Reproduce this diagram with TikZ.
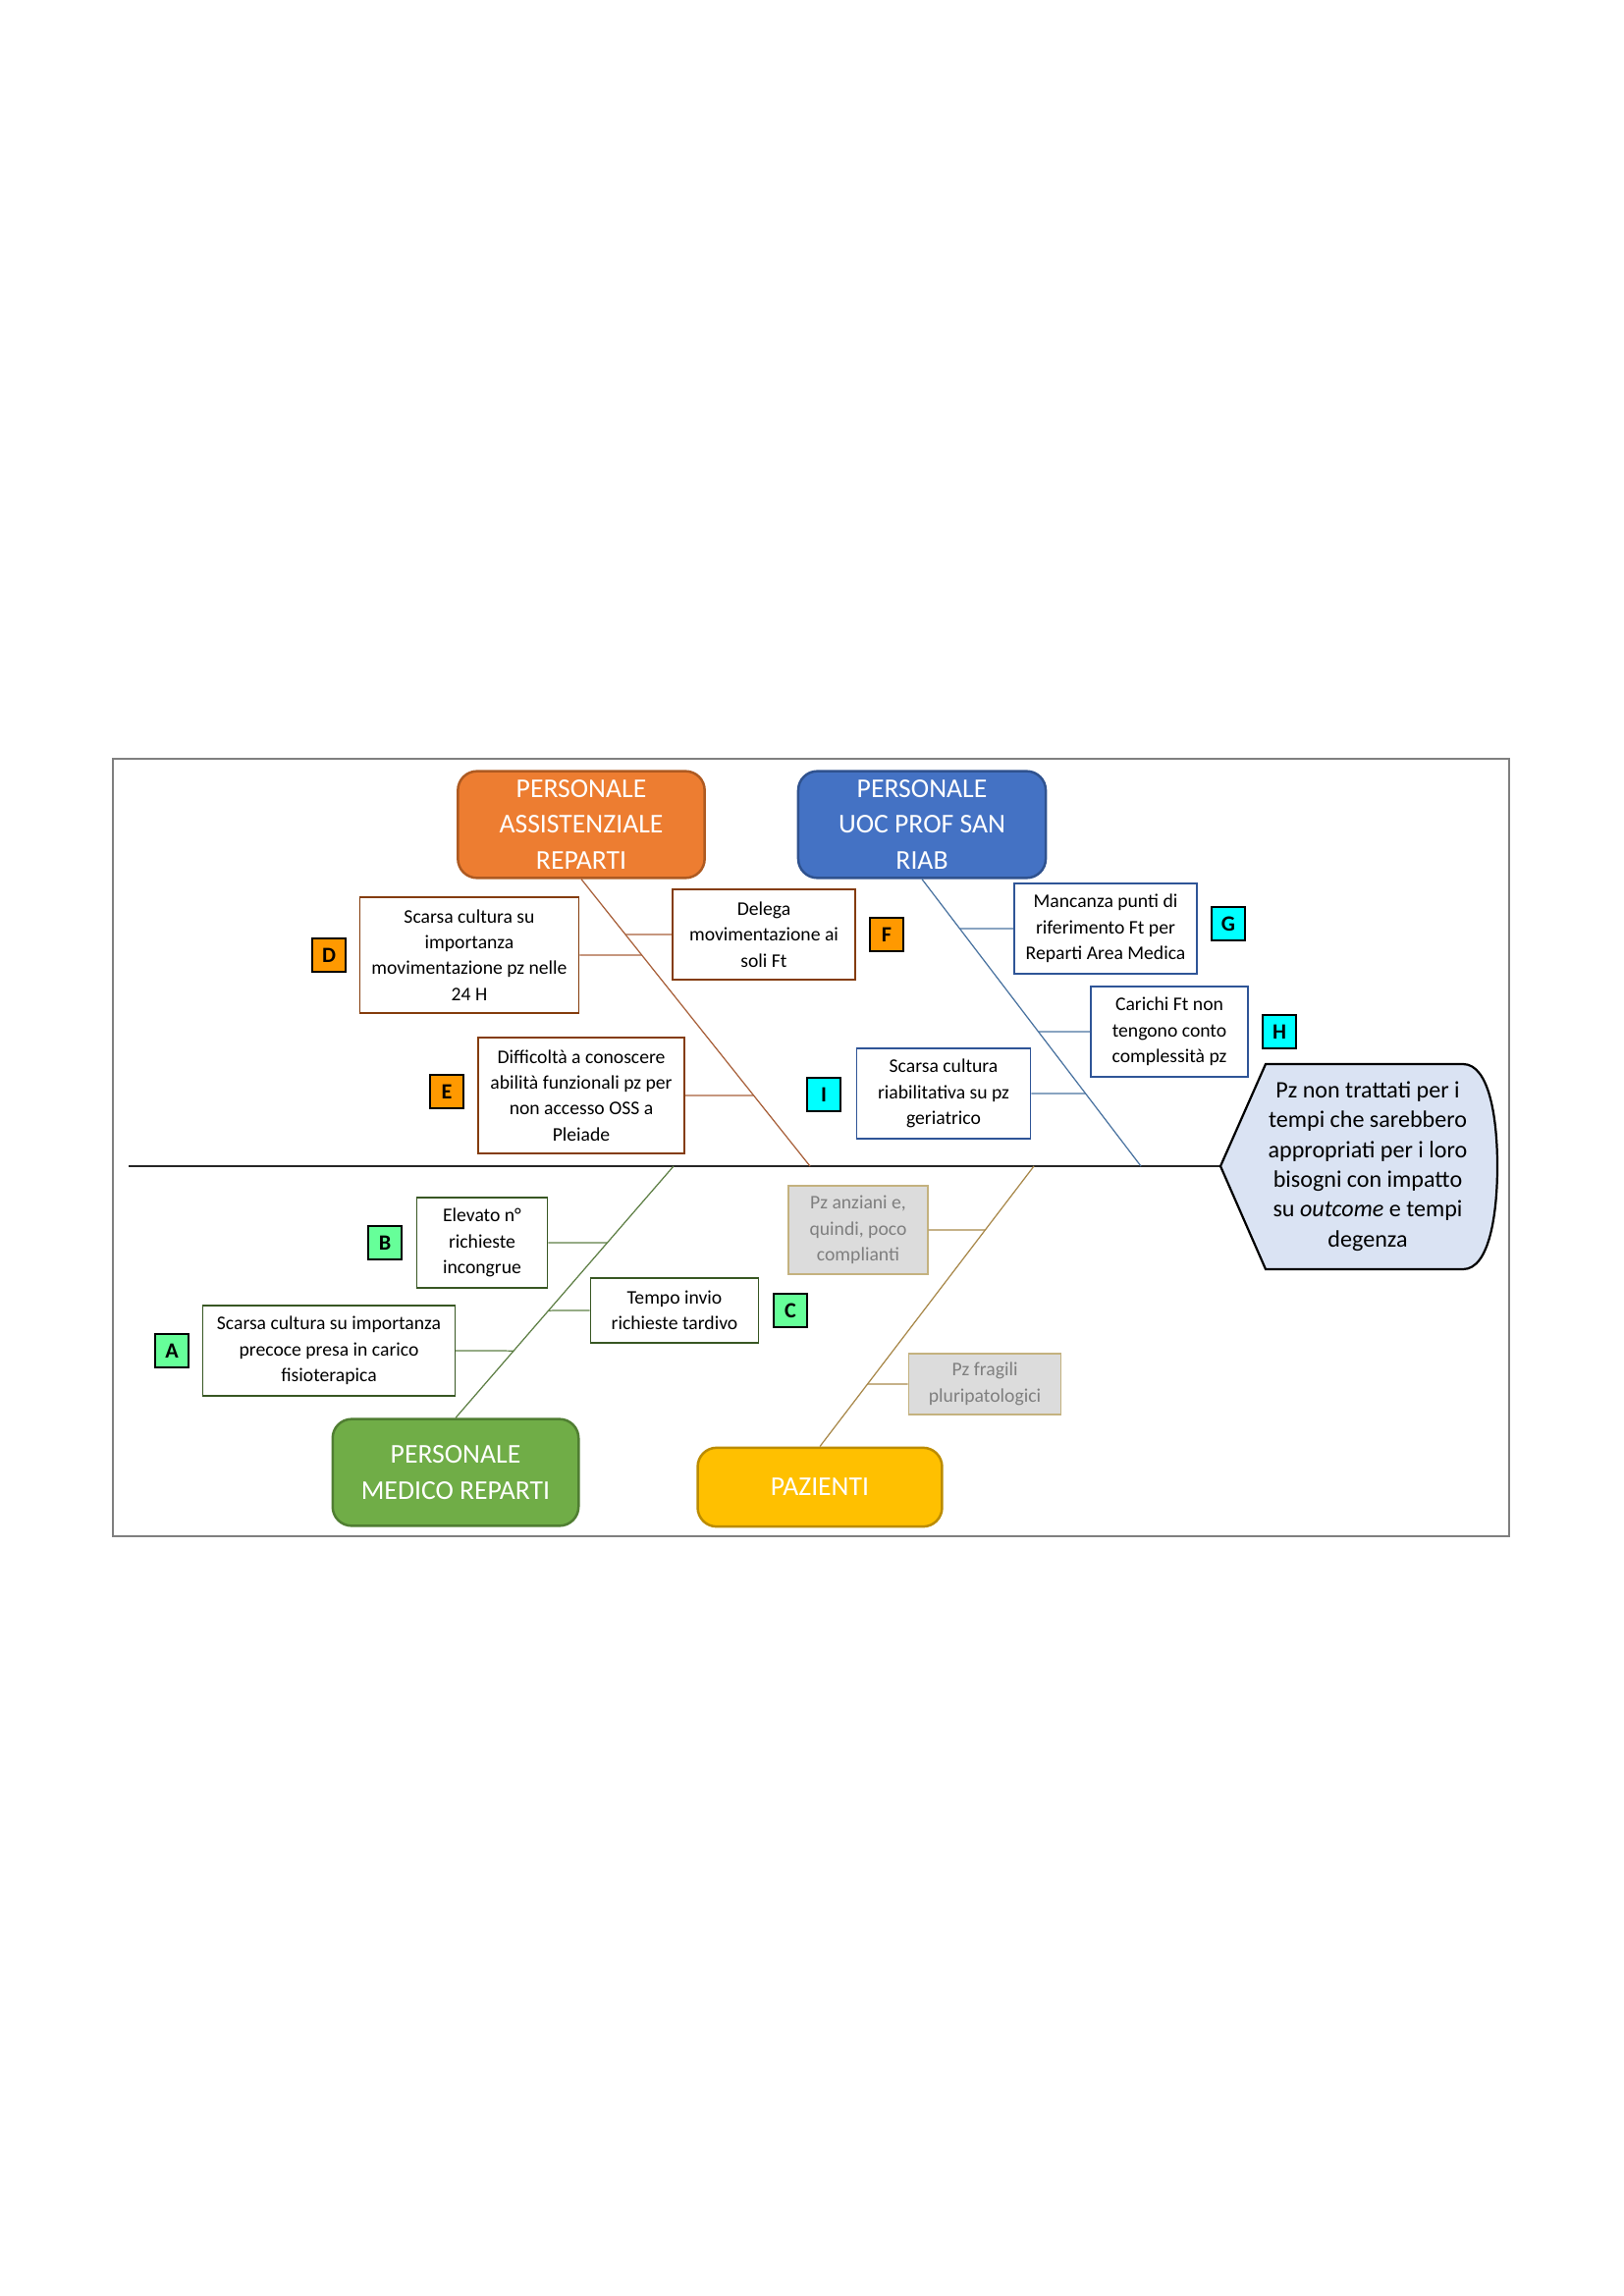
\documentclass[tikz,border=0pt]{standalone}
\usepackage{fontspec}
\setmainfont{Carlito}
\usepackage{tikz}
\usetikzlibrary{calc}
\definecolor{arancio}{HTML}{ED7D31}
\definecolor{arancioB}{HTML}{AE5A21}
\definecolor{blu}{HTML}{4472C4}
\definecolor{bluB}{HTML}{2F528F}
\definecolor{verde}{HTML}{70AD47}
\definecolor{verdeB}{HTML}{507E32}
\definecolor{giallo}{HTML}{FFC000}
\definecolor{gialloB}{HTML}{BC8C00}
\definecolor{bordoass}{HTML}{843C0C}
\definecolor{bordouoc}{HTML}{2F5597}
\definecolor{bordomed}{HTML}{385723}
\definecolor{ossoass}{HTML}{A8603A}
\definecolor{ossouoc}{HTML}{4A73A0}
\definecolor{ossomed}{HTML}{5E7F45}
\definecolor{ossopaz}{HTML}{A8884A}
\definecolor{grigio}{HTML}{DCDCDC}
\definecolor{grigioB}{HTML}{C4B27F}
\definecolor{grigioT}{HTML}{7F7F7F}
\definecolor{testa}{HTML}{DAE3F3}
\definecolor{tagass}{HTML}{FF9900}
\definecolor{taguoc}{HTML}{00FFFF}
\definecolor{tagmed}{HTML}{66FF99}
\tikzset{
  cat/.style={draw, rounded corners=7pt, line width=0.9pt, text=white, align=center,
    inner sep=0pt, font=\fontsize{10}{13.2}\selectfont},
  cause/.style={draw, fill=white, line width=0.6pt, align=center, inner sep=0pt,
    font=\fontsize{7.1}{9.5}\selectfont},
  greybox/.style={cause, fill=grigio, draw=grigioB, text=grigioT},
  tag/.style={draw=black, line width=0.7pt, minimum width=0.43cm, minimum height=0.44cm,
    inner sep=0pt, font=\fontsize{8}{9}\selectfont\bfseries},
  bone/.style={line width=0.45pt},
}
\begin{document}
\begin{tikzpicture}[x=0.0127cm,y=-0.0127cm]
\useasboundingbox (0,0) rectangle (1653,2339);
\draw[grigioT, line width=0.5pt] (115,773) rectangle (1537,1565);

\node[cat, fill=arancio, draw=arancioB, minimum width=3.19cm, minimum height=1.38cm] (ass) at (592,840) {PERSONALE\\ASSISTENZIALE\\REPARTI};
\node[cat, fill=blu, draw=bluB, minimum width=3.20cm, minimum height=1.38cm] (uoc) at (939,840) {PERSONALE\\UOC PROF SAN\\RIAB};
\node[cat, fill=verde, draw=verdeB, minimum width=3.18cm, minimum height=1.38cm] (med) at (464,1500) {PERSONALE\\MEDICO REPARTI};
\node[cat, fill=giallo, draw=gialloB, minimum width=3.16cm, minimum height=1.02cm] (paz) at (835,1515) {PAZIENTI};

\coordinate (coda) at (131,1188);
\coordinate (tip) at (1243,1188);
\coordinate (ass0) at (825,1188);
\coordinate (uoc0) at (1162,1188);
\coordinate (med0) at (686,1188);
\coordinate (paz0) at (1053,1188);

\draw[line width=0.8pt, black!85] (coda) -- (tip);
\draw[line width=0.8pt, fill=testa] (tip) -- (1289,1084) -- (1490,1084)
  .. controls (1517,1084) and (1525,1140) .. (1525,1188)
  .. controls (1525,1236) and (1517,1293) .. (1490,1293) -- (1289,1293) -- cycle;
\node[align=center, inner sep=0pt, font=\fontsize{8.7}{11}\selectfont] (effetto) at (1393,1188)
  {Pz non trattati per i\\tempi che sarebbero\\appropriati per i loro\\bisogni con impatto\\su \textit{outcome} e tempi\\degenza};

\draw[bone, ossoass] (ass.south) -- (ass0);
\draw[bone, ossouoc] (uoc.south) -- (uoc0);
\draw[bone, ossomed] (med.north) -- (med0);
\draw[bone, ossopaz] (paz.north) -- (paz0);

\node[cause, draw=bordoass, minimum width=2.83cm, minimum height=1.49cm] (D) at (478,973) {Scarsa cultura su\\importanza\\movimentazione pz nelle\\24 H};
\node[cause, draw=bordoass, minimum width=2.36cm, minimum height=1.17cm] (F) at (778,952) {Delega\\movimentazione ai\\soli Ft};
\node[cause, draw=bordoass, minimum width=2.67cm, minimum height=1.50cm] (E) at (592,1116) {Difficoltà a conoscere\\abilità funzionali pz per\\non accesso OSS a\\Pleiade};
\node[cause, draw=bordouoc, minimum width=2.25cm, minimum height=1.16cm] (I) at (961,1114) {Scarsa cultura\\riabilitativa su pz\\geriatrico};
\node[cause, draw=bordouoc, minimum width=2.36cm, minimum height=1.17cm] (G) at (1126,946) {Mancanza punti di\\riferimento Ft per\\Reparti Area Medica};
\node[cause, draw=bordouoc, minimum width=2.03cm, minimum height=1.17cm] (H) at (1191,1051) {Carichi Ft non\\tengono conto\\complessità pz};
\node[cause, draw=bordomed, minimum width=1.69cm, minimum height=1.17cm] (B) at (491,1266) {Elevato n°\\richieste\\incongrue};
\node[cause, draw=bordomed, minimum width=2.17cm, minimum height=0.83cm] (C) at (687,1335) {Tempo invio\\richieste tardivo};
\node[cause, draw=bordomed, minimum width=3.26cm, minimum height=1.17cm] (A) at (335,1376) {Scarsa cultura su importanza\\precoce presa in carico\\fisioterapica};
\node[greybox, minimum width=1.80cm, minimum height=1.14cm] (anz) at (874,1253) {Pz anziani e,\\quindi, poco\\complianti};
\node[greybox, minimum width=1.97cm, minimum height=0.79cm] (fra) at (1003,1410) {Pz fragili\\pluripatologici};

\draw[bone, ossoass] (D.east) -- (intersection of D.east--D.west and ass.south--ass0);
\draw[bone, ossoass] (F.west) -- (intersection of F.east--F.west and ass.south--ass0);
\draw[bone, ossoass] (E.east) -- (intersection of E.east--E.west and ass.south--ass0);
\draw[bone, ossouoc] (I.east) -- (intersection of I.east--I.west and uoc.south--uoc0);
\draw[bone, ossouoc] (G.west) -- (intersection of G.east--G.west and uoc.south--uoc0);
\draw[bone, ossouoc] (H.west) -- (intersection of H.east--H.west and uoc.south--uoc0);
\draw[bone, ossomed] (B.east) -- (intersection of B.east--B.west and med.north--med0);
\draw[bone, ossomed] (C.west) -- (intersection of C.east--C.west and med.north--med0);
\draw[bone, ossomed] (A.east) -- (intersection of A.east--A.west and med.north--med0);
\draw[bone, ossopaz] (anz.east) -- (intersection of anz.east--anz.west and paz.north--paz0);
\draw[bone, ossopaz] (fra.west) -- (intersection of fra.east--fra.west and paz.north--paz0);

\node[tag, fill=tagass] (tD) at (335,973) {D};
\node[tag, fill=tagass] (tE) at (455,1112) {E};
\node[tag, fill=tagass] (tF) at (903,952) {F};
\node[tag, fill=taguoc] (tG) at (1251,941) {G};
\node[tag, fill=taguoc] (tH) at (1303,1051) {H};
\node[tag, fill=taguoc] (tI) at (839,1115) {I};
\node[tag, fill=tagmed] (tA) at (175,1376) {A};
\node[tag, fill=tagmed] (tB) at (392,1266) {B};
\node[tag, fill=tagmed] (tC) at (805,1335) {C};
\end{tikzpicture}
\end{document}
